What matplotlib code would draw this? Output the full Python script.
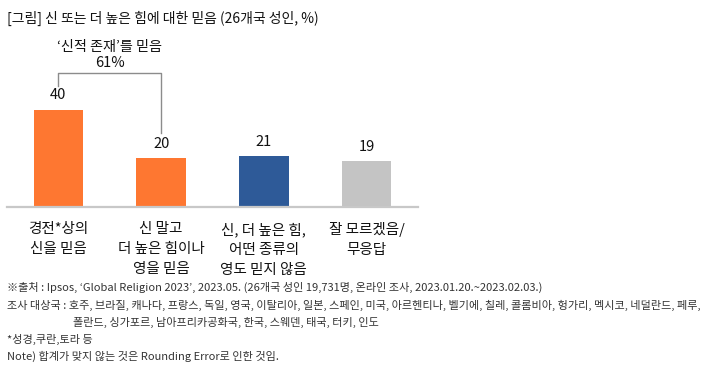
import matplotlib
matplotlib.use("Agg")
import matplotlib.pyplot as plt

plt.rcParams['font.family'] = ['Noto Sans CJK KR', 'DejaVu Sans']

title = "[그림] 신 또는 더 높은 힘에 대한 믿음 (26개국 성인, %)"
categories = ["경전*상의\n신을 믿음", "신 말고\n더 높은 힘이나\n영을 믿음",
              "신, 더 높은 힘,\n어떤 종류의\n영도 믿지 않음", "잘 모르겠음/\n무응답"]
values = [40, 20, 21, 19]
colors = ["#FE7731", "#FE7731", "#2E5A98", "#C4C4C4"]
bracket_title = "‘신적 존재’를 믿음"
bracket_total = "61%"
footnotes = [
    "※출처 : Ipsos, ‘Global Religion 2023’, 2023.05. (26개국 성인 19,731명, 온라인 조사, 2023.01.20.~2023.02.03.)",
    "조사 대상국 : 호주, 브라질, 캐나다, 프랑스, 독일, 영국, 이탈리아, 일본, 스페인, 미국, 아르헨티나, 벨기에, 칠레, 콜롬비아, 헝가리, 멕시코, 네덜란드, 페루,",
    "폴란드, 싱가포르, 남아프리카공화국, 한국, 스웨덴, 태국, 터키, 인도",
    "*성경,쿠란,토라 등",
    "Note) 합계가 맞지 않는 것은 Rounding Error로 인한 것임.",
]

W, H = 719, 375
fig = plt.figure(figsize=(W / 100, H / 100), dpi=100)

def fx(px):
    return px / W

def fy(py):
    return 1 - py / H

ax_left, ax_right, ax_base, ax_top = 7, 418, 207, 60
ax = fig.add_axes([fx(ax_left), fy(ax_base), fx(ax_right - ax_left), (ax_base - ax_top) / H])
x = list(range(len(values)))
ax.bar(x, values, width=0.48, color=colors, zorder=2)
ax.set_xlim(-0.5, 3.5)
ax.set_ylim(0, (ax_base - ax_top) / 2.43)
for s in ["top", "right", "left"]:
    ax.spines[s].set_visible(False)
ax.spines["bottom"].set_color("#C8C8C8")
ax.spines["bottom"].set_linewidth(1.6)
ax.set_yticks([])
ax.set_xticks([])

for xi, v in zip(x, values):
    ax.annotate(str(v), (xi, v), xytext=(0, 10.3), textcoords="offset points",
                ha="center", va="center", fontsize=10.5, color="#111111")

# category labels
for xi, c in zip(x, categories):
    ax.annotate(c, (xi, 0), xytext=(0, -11), textcoords="offset points",
                ha="center", va="top", fontsize=10.5, color="#111111",
                linespacing=1.55, annotation_clip=False)

# bracket
top_y = max(values[0], values[1]) + 15.3
ax.plot([0, 0, 1, 1], [values[0] + 10, top_y, top_y, values[1] + 10.5],
        color="#8C8C8C", lw=1.0, clip_on=False, zorder=3)
ax.text(0.5, top_y + 10.5, bracket_title, ha="center", va="center", fontsize=10.2,
        color="#111111", clip_on=False)
ax.text(0.5, top_y + 4, bracket_total, ha="center", va="center", fontsize=10.5,
        color="#111111", clip_on=False)

fig.text(fx(7), fy(18), title, ha="left", va="center", fontsize=10, color="#111111")

foot_y = [287, 305, 322, 339, 356]
foot_x = [7, 7, 73, 7, 7]
for t, yy, xx in zip(footnotes, foot_y, foot_x):
    fig.text(fx(xx), fy(yy), t, ha="left", va="center", fontsize=8, color="#333333")

fig.savefig("out.png", dpi=100)
